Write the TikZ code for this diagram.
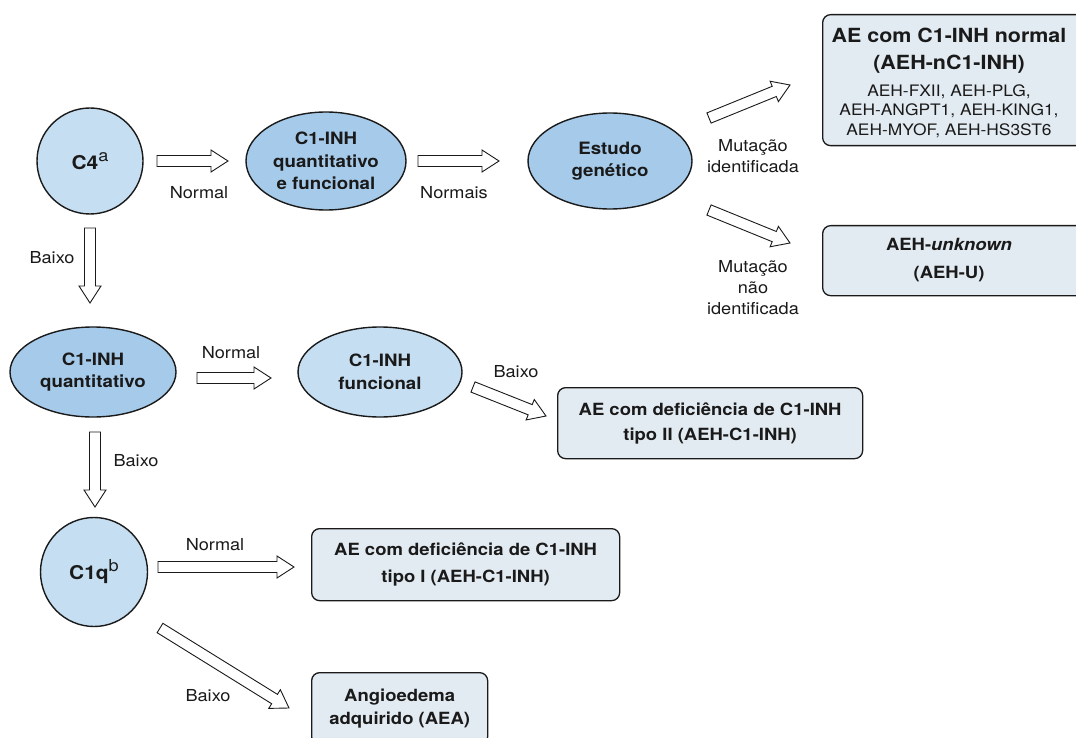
\documentclass[tikz,border=0pt]{standalone}
\usepackage{fontspec}
\setmainfont[FakeStretch=1.1]{TeX Gyre Heros}
\usetikzlibrary{calc,shapes.geometric}
\definecolor{lightfill}{HTML}{C6DEF1}
\definecolor{darkfill}{HTML}{A6CAEA}
\definecolor{boxfill}{HTML}{E3EBF2}
\definecolor{inkc}{HTML}{1A1A1A}
\newcommand\sups[1]{\raisebox{8pt}{\mdseries\fontsize{16.5}{16.5}\selectfont #1}}
\tikzset{
  lightell/.style={ellipse, draw=inkc, line width=1.4pt, fill=lightfill, align=center, inner sep=0pt, text=inkc,
    font=\bfseries\fontsize{17}{22.5}\selectfont},
  darkell/.style={lightell, fill=darkfill},
  bigtxt/.style={font=\bfseries\fontsize{19}{22}\selectfont},
  resbox/.style={draw=inkc, line width=1.3pt, rounded corners=8pt, fill=boxfill, align=center, inner sep=0pt, text=inkc,
    font=\bfseries\fontsize{16.8}{25}\selectfont},
  boxtext/.style={align=center, inner sep=0pt, text=inkc},
  lbl/.style={align=center, inner sep=0pt, text=inkc, font=\fontsize{16.5}{21}\selectfont},
  barrowline/.style={draw=inkc, line width=0.9pt, fill=white, line join=miter},
}
\newcommand\blockarrow[2]{%
  \draw[barrowline] let \p1=(#1), \p2=(#2), \n1={atan2(\y2-\y1,\x2-\x1)} in
    ($(\p1)+(\n1+90:5.5pt)$) -- ($(\p2)+(\n1:-17pt)+(\n1+90:5.5pt)$) -- ($(\p2)+(\n1:-17pt)+(\n1+90:11pt)$)
    -- (\p2) -- ($(\p2)+(\n1:-17pt)+(\n1-90:11pt)$) -- ($(\p2)+(\n1:-17pt)+(\n1-90:5.5pt)$)
    -- ($(\p1)+(\n1-90:5.5pt)$) -- cycle;}
\begin{document}
\begin{tikzpicture}[x=1pt,y=-1pt]
\useasboundingbox[fill=white] (0,0) rectangle (1076,738);

% ---- nodes
\node[lightell, bigtxt, minimum width=106pt, minimum height=106pt] (c4) at (90,161) {C4\sups{a}};
\node[darkell, minimum width=160pt, minimum height=98pt] (q1) at (326,161) {C1-INH\\quantitativo\\e funcional};
\node[darkell, minimum width=164pt, minimum height=96pt] (gen) at (610,161) {Estudo\\genético};
\node[darkell, minimum width=166pt, minimum height=90pt] (cq) at (93,372) {C1-INH\\quantitativo};
\node[lightell, minimum width=164pt, minimum height=90pt] (cf) at (380,372) {C1-INH\\funcional};
\node[lightell, bigtxt, minimum width=107pt, minimum height=109pt] (c1q) at (94,572) {C1q\sups{b}};

\node[resbox, anchor=north west, minimum width=270pt, minimum height=131pt] (nbox) at (822,14) {};
\node[boxtext, font=\bfseries\fontsize{19.5}{27}\selectfont] (nboxtitle) at (949,51) {AE com C1-INH normal\\(AEH-nC1-INH)};
\node[boxtext, font=\fontsize{15.8}{19.7}\selectfont] (nboxlist) at (949,111) {AEH-FXII, AEH-PLG,\\AEH-ANGPT1, AEH-KING1,\\AEH-MYOF, AEH-HS3ST6};

\node[resbox, anchor=north west, minimum width=270pt, minimum height=70pt] (ubox) at (822,225) {};
\node[boxtext, font=\bfseries\fontsize{16.8}{28}\selectfont] (utext) at (949,260) {AEH-\textit{unknown}\\(AEH-U)};

\node[resbox, anchor=north west, minimum width=305pt, minimum height=71pt] (b2) at (557,387) {AE com deficiência de C1-INH\\tipo II (AEH-C1-INH)};
\node[resbox, anchor=north west, minimum width=308pt, minimum height=72pt, font=\bfseries\fontsize{16.8}{27}\selectfont] (b1) at (311,528) {AE com deficiência de C1-INH\\tipo I (AEH-C1-INH)};
\node[resbox, anchor=north west, minimum width=176pt, minimum height=72pt, font=\bfseries\fontsize{16.8}{23}\selectfont] (aea) at (311,672) {Angioedema\\adquirido (AEA)};

% ---- arrow end points
\coordinate (a1s) at (157,161);  \coordinate (a1e) at (228,161);
\coordinate (a2s) at (418,161);  \coordinate (a2e) at (499,161);
\coordinate (a3s) at (709,118);  \coordinate (a3e) at (790,85);
\coordinate (a4s) at (709,210);  \coordinate (a4e) at (790,243);
\coordinate (a5s) at (90,228);   \coordinate (a5e) at (90,303);
\coordinate (a6s) at (197,378);  \coordinate (a6e) at (271,378);
\coordinate (a7s) at (473,387);  \coordinate (a7e) at (546,416);
\coordinate (a8s) at (95,432);   \coordinate (a8e) at (95,507);
\coordinate (a9s) at (158,567);  \coordinate (a9e) at (294,567);
\coordinate (a10s) at (160,628); \coordinate (a10e) at (289,708);

\blockarrow{a1s}{a1e}
\blockarrow{a2s}{a2e}
\blockarrow{a3s}{a3e}
\blockarrow{a4s}{a4e}
\blockarrow{a5s}{a5e}
\blockarrow{a6s}{a6e}
\blockarrow{a7s}{a7e}
\blockarrow{a8s}{a8e}
\blockarrow{a9s}{a9e}
\blockarrow{a10s}{a10e}

% ---- labels
\node[lbl] (l1) at (199,193) {Normal};
\node[lbl] (l2) at (454,193) {Normais};
\node[lbl] (l3) at (753,156) {Mutação\\identificada};
\node[lbl] (l4) at (753,288) {Mutação\\não\\identificada};
\node[lbl] (l5) at (52,258) {Baixo};
\node[lbl] (l6) at (231,353) {Normal};
\node[lbl] (l7) at (516,372) {Baixo};
\node[lbl] (l8) at (136,461) {Baixo};
\node[lbl] (l9) at (215,545) {Normal};
\node[lbl] (l10) at (208,696) {Baixo};
\end{tikzpicture}
\end{document}
